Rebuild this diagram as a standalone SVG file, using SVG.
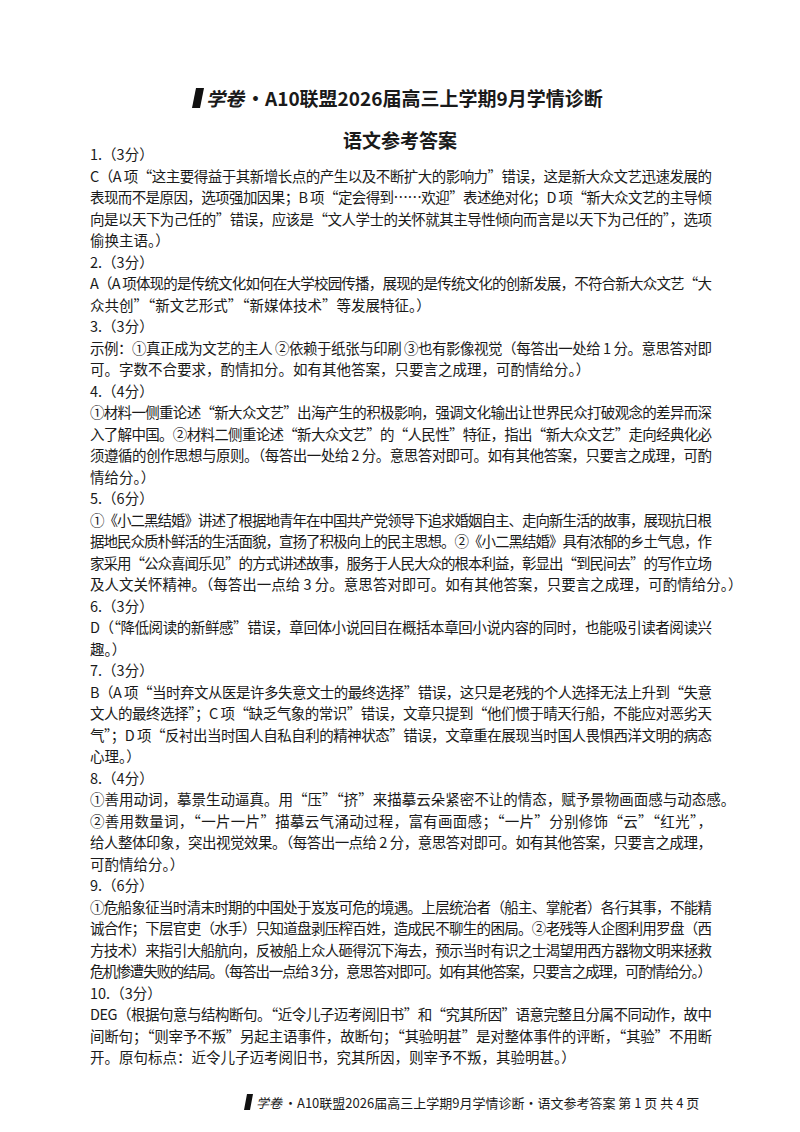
<svg xmlns="http://www.w3.org/2000/svg" width="800" height="1132" viewBox="0 0 800 1132">
<style>
text{font-family:"Noto Sans CJK SC","Liberation Serif",serif;fill:#1a1a1a}
.b{font-size:14.5px}
.t{font-size:19px;font-weight:bold}
.f{font-size:13px}
</style>
<rect width="800" height="1132" fill="#fff"/>
<g id="header">
<path d="M196 88 L204 88 L200 108 L192 108 Z" fill="#111"/>
<text x="206" y="106" class="t" font-style="italic" font-weight="normal">学卷</text>
<text x="246" y="106" class="t">·A10联盟2026届高三上学期9月学情诊断</text>
<text x="400" y="148" class="t" text-anchor="middle">语文参考答案</text>
</g>
<g id="body" class="b">
<text x="90" y="160">1.（3分）</text>
<text x="90" y="181.5" textLength="622" lengthAdjust="spacing">C（A 项“这主要得益于其新增长点的产生以及不断扩大的影响力”错误，这是新大众文艺迅速发展的</text>
<text x="90" y="203" textLength="622" lengthAdjust="spacing">表现而不是原因，选项强加因果；B 项“定会得到……欢迎”表述绝对化；D 项“新大众文艺的主导倾</text>
<text x="90" y="224.5" textLength="622" lengthAdjust="spacing">向是以天下为己任的”错误，应该是“文人学士的关怀就其主导性倾向而言是以天下为己任的”，选项</text>
<text x="90" y="246">偷换主语。）</text>
<text x="90" y="267.5">2.（3分）</text>
<text x="90" y="289" textLength="622" lengthAdjust="spacing">A（A 项体现的是传统文化如何在大学校园传播，展现的是传统文化的创新发展，不符合新大众文艺“大</text>
<text x="90" y="310.5">众共创”“新文艺形式”“新媒体技术”等发展特征。）</text>
<text x="90" y="332">3.（3分）</text>
<text x="90" y="353.5" textLength="622" lengthAdjust="spacing">示例：①真正成为文艺的主人 ②依赖于纸张与印刷 ③也有影像视觉（每答出一处给 1 分。意思答对即</text>
<text x="90" y="375">可。字数不合要求，酌情扣分。如有其他答案，只要言之成理，可酌情给分。）</text>
<text x="90" y="396.5">4.（4分）</text>
<text x="90" y="418" textLength="622" lengthAdjust="spacing">①材料一侧重论述“新大众文艺”出海产生的积极影响，强调文化输出让世界民众打破观念的差异而深</text>
<text x="90" y="439.5" textLength="622" lengthAdjust="spacing">入了解中国。②材料二侧重论述“新大众文艺”的“人民性”特征，指出“新大众文艺”走向经典化必</text>
<text x="90" y="461" textLength="622" lengthAdjust="spacing">须遵循的创作思想与原则。（每答出一处给 2 分。意思答对即可。如有其他答案，只要言之成理，可酌</text>
<text x="90" y="482.5">情给分。）</text>
<text x="90" y="504">5.（6分）</text>
<text x="90" y="525.5" textLength="622" lengthAdjust="spacing">①《小二黑结婚》讲述了根据地青年在中国共产党领导下追求婚姻自主、走向新生活的故事，展现抗日根</text>
<text x="90" y="547" textLength="622" lengthAdjust="spacing">据地民众质朴鲜活的生活面貌，宣扬了积极向上的民主思想。②《小二黑结婚》具有浓郁的乡土气息，作</text>
<text x="90" y="568.5" textLength="622" lengthAdjust="spacing">家采用“公众喜闻乐见”的方式讲述故事，服务于人民大众的根本利益，彰显出“到民间去”的写作立场</text>
<text x="90" y="590">及人文关怀精神。（每答出一点给 3 分。意思答对即可。如有其他答案，只要言之成理，可酌情给分。）</text>
<text x="90" y="611.5">6.（3分）</text>
<text x="90" y="633" textLength="622" lengthAdjust="spacing">D（“降低阅读的新鲜感”错误，章回体小说回目在概括本章回小说内容的同时，也能吸引读者阅读兴</text>
<text x="90" y="654.5">趣。）</text>
<text x="90" y="676">7.（3分）</text>
<text x="90" y="697.5" textLength="622" lengthAdjust="spacing">B（A 项“当时弃文从医是许多失意文士的最终选择”错误，这只是老残的个人选择无法上升到“失意</text>
<text x="90" y="719" textLength="622" lengthAdjust="spacing">文人的最终选择”；C 项“缺乏气象的常识”错误，文章只提到“他们惯于晴天行船，不能应对恶劣天</text>
<text x="90" y="740.5" textLength="622" lengthAdjust="spacing">气”；D 项“反衬出当时国人自私自利的精神状态”错误，文章重在展现当时国人畏惧西洋文明的病态</text>
<text x="90" y="762">心理。）</text>
<text x="90" y="783.5">8.（4分）</text>
<text x="90" y="805">①善用动词，摹景生动逼真。用“压”“挤”来描摹云朵紧密不让的情态，赋予景物画面感与动态感。</text>
<text x="90" y="826.5" textLength="622" lengthAdjust="spacing">②善用数量词，“一片一片”描摹云气涌动过程，富有画面感；“一片”分别修饰“云”“红光”，</text>
<text x="90" y="848" textLength="622" lengthAdjust="spacing">给人整体印象，突出视觉效果。（每答出一点给 2 分，意思答对即可。如有其他答案，只要言之成理，</text>
<text x="90" y="869.5">可酌情给分。）</text>
<text x="90" y="891">9.（6分）</text>
<text x="90" y="912.5" textLength="622" lengthAdjust="spacing">①危船象征当时清末时期的中国处于岌岌可危的境遇。上层统治者（船主、掌舵者）各行其事，不能精</text>
<text x="90" y="934" textLength="622" lengthAdjust="spacing">诚合作；下层官吏（水手）只知道盘剥压榨百姓，造成民不聊生的困局。②老残等人企图利用罗盘（西</text>
<text x="90" y="955.5" textLength="622" lengthAdjust="spacing">方技术）来指引大船航向，反被船上众人砸得沉下海去，预示当时有识之士渴望用西方器物文明来拯救</text>
<text x="90" y="977" textLength="622" lengthAdjust="spacing">危机惨遭失败的结局。（每答出一点给 3 分，意思答对即可。如有其他答案，只要言之成理，可酌情给分。）</text>
<text x="90" y="998.5">10.（3分）</text>
<text x="90" y="1020" textLength="622" lengthAdjust="spacing">DEG（根据句意与结构断句。“近令儿子迈考阅旧书”和“究其所因”语意完整且分属不同动作，故中</text>
<text x="90" y="1041.5" textLength="622" lengthAdjust="spacing">间断句；“则宰予不叛”另起主语事件，故断句；“其验明甚”是对整体事件的评断，“其验”不用断</text>
<text x="90" y="1063">开。原句标点：近令儿子迈考阅旧书，究其所因，则宰予不叛，其验明甚。）</text>
</g>
<g id="footer">
<path d="M247 1094 L253 1094 L250 1110 L244 1110 Z" fill="#111"/>
<text x="256" y="1108" class="f" font-style="italic">学卷</text>
<text x="284" y="1108" class="f">·A10联盟2026届高三上学期9月学情诊断·语文参考答案 第 1 页  共 4 页</text>
</g>
</svg>
